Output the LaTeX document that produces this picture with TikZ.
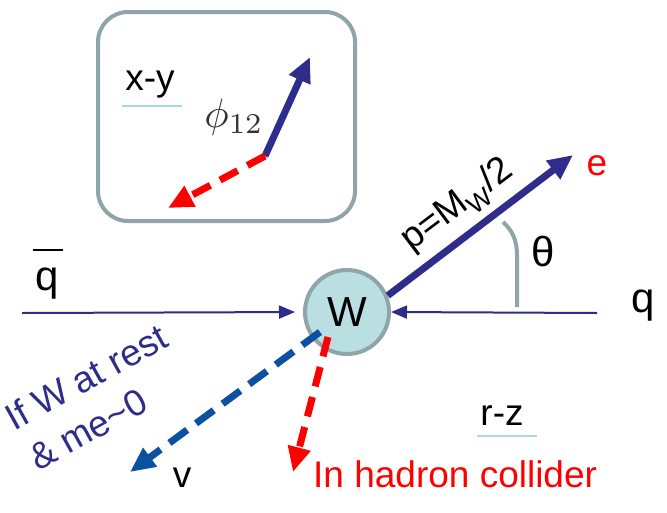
\documentclass[tikz,border=0pt]{standalone}
\usepackage{fontspec}
\setmainfont{Liberation Sans}
\usetikzlibrary{arrows.meta,calc}
\definecolor{navy}{RGB}{46,45,140}
\definecolor{nublue}{RGB}{12,80,160}
\definecolor{bordgray}{RGB}{143,165,167}
\definecolor{wfill}{RGB}{186,223,227}
\definecolor{ulcyan}{RGB}{170,216,220}
\begin{document}
\begin{tikzpicture}[x=1pt,y=-1pt,
  bigarrow/.style={line width=7pt,-{Triangle[length=25pt,width=22pt]}},
  thinarrow/.style={line width=2pt,-{Triangle[length=16pt,width=13pt]}},
  dashpat/.style={dash pattern=on 20pt off 11pt},
  ul/.style={ulcyan,line width=1.5pt},
  txt/.style={inner sep=0pt,font=\fontsize{#1}{#1}\selectfont},
  txt/.default=37]
\useasboundingbox (0,0) rectangle (667,512);

% x-y inset
\draw[bordgray,line width=4pt,rounded corners=30pt] (98,12) rectangle (355,221);
\node[txt, anchor=base] (xy) at (150,90) {x-y};
\draw[ul] (122,106) -- (182,106);
\node[inner sep=0pt, scale=4.1, text=black!80] (phi) at (234,117) {$\phi_{12}$};
\coordinate (o) at (265,156);
\coordinate (bt) at (310,57);
\coordinate (rt) at (168,208);
\draw[navy,bigarrow] (o) -- (bt);
\draw[red,bigarrow,dashpat] (o) -- (rt);

% main
\node[circle,draw=bordgray,fill=wfill,line width=4pt,minimum size=84pt,inner sep=0pt,
  font=\fontsize{42}{42}\selectfont] (W) at (347,312) {W};
\coordinate (qbs) at (22,313);
\coordinate (qs) at (597,313);
\draw[navy,thinarrow,shorten >=8pt] (qbs) -- (W.west);
\draw[navy,thinarrow] (qs) -- (W.east);

\node[txt=42, anchor=base] (qb) at (47,290) {q};
\draw[line width=1.6pt] (33,250) -- (63,250);
\node[txt=42, anchor=base] (q) at (643,312) {q};

\coordinate (et) at (573,155);
\draw[navy,bigarrow] (W.22) -- (et);
\node[txt,text=red,anchor=base] (e) at (597,175) {e};
\node[txt, rotate=37] (plab) at (458,206) {p=M\textsubscript{W}/2};

\draw[bordgray,line width=4pt] (517,307) -- (517,255) .. controls (517,240) and (512,230) .. (503,222);
\node[txt=42, anchor=base] (theta) at (543,266) {θ};

\coordinate (nus) at ($(W)+(-27,20)$);
\coordinate (nut) at (130,472);
\draw[nublue,bigarrow,dash pattern=on 22pt off 11pt] (nus) -- (nut);
\node[txt, anchor=base] (v) at (182,487) {v};

\coordinate (hs) at ($(W)+(-19,25)$);
\coordinate (ht) at (293,472);
\draw[red,bigarrow,dashpat] (hs) -- (ht);
\node[txt,text=red,anchor=base west] (had) at (313,487) {In hadron collider};

\node[txt,text=navy,anchor=base west,rotate=29] (l1) at (14,432) {If W at rest};
\node[txt,text=navy,anchor=base west,rotate=29] (l2) at (38,472) {\& me\textasciitilde 0};

\node[txt, anchor=base] (rz) at (502,425) {r-z};
\draw[ul] (477,436) -- (537,436);
\end{tikzpicture}
\end{document}
